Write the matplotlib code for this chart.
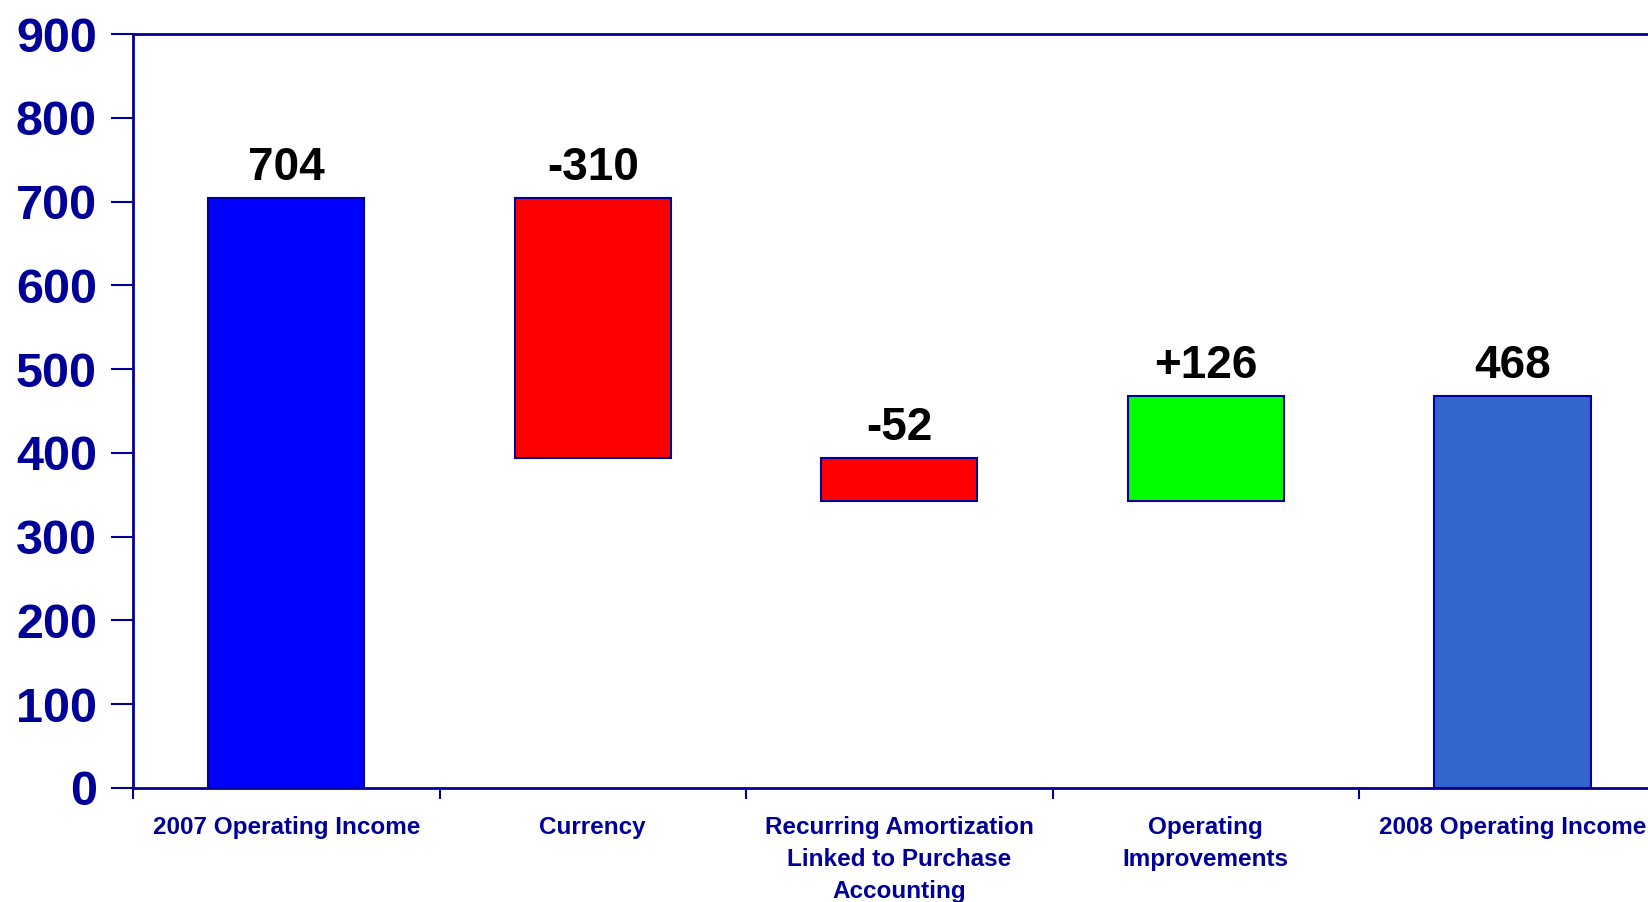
import matplotlib.pyplot as plt
from matplotlib.ticker import FixedLocator

plt.rcParams['font.family'] = ['Liberation Sans', 'DejaVu Sans']

# waterfall steps: start, changes, end
categories = ['2007 Operating Income', 'Currency',
              'Recurring Amortization\nLinked to Purchase\nAccounting',
              'Operating\nImprovements', '2008 Operating Income']
start_value = 704
changes = [-310, -52, 126]
end_value = 468
value_labels = ['704', '-310', '-52', '+126', '468']

navy = '#000099'
colors = ['#0000FF', '#FF0000', '#FF0000', '#00FF00', '#3366CC']

# build bottoms / heights from the running total
bottoms = [0]
heights = [start_value]
running = start_value
for c in changes:
    new = running + c
    bottoms.append(min(running, new))
    heights.append(abs(c))
    running = new
bottoms.append(0)
heights.append(end_value)

fig = plt.figure(figsize=(16.48, 9.02), dpi=100)
ax = fig.add_axes([0.0807, 0.1264, 0.930, 0.8359])

x = range(len(categories))
bars = ax.bar(x, heights, bottom=bottoms, width=0.51, color=colors,
              edgecolor=navy, linewidth=1.5)

for b, lab in zip(bars, value_labels):
    top = b.get_y() + b.get_height()
    ax.annotate(lab, (b.get_x() + b.get_width() / 2, top),
                xytext=(0, 6), textcoords='offset points',
                ha='center', va='bottom', fontsize=33, fontweight='bold',
                color='black')

ax.set_xlim(-0.5, len(categories) - 0.5)
ax.set_ylim(0, 900)
ax.set_yticks(range(0, 901, 100))

ax.set_xticks(list(x))
ax.set_xticklabels(categories, fontsize=17.5, fontweight='bold', color=navy,
                   linespacing=1.52)
ax.xaxis.set_minor_locator(FixedLocator([i - 0.5 for i in range(len(categories) + 1)]))
ax.tick_params(axis='x', which='major', length=0, pad=20)
ax.tick_params(axis='x', which='minor', length=8, width=1.5, color=navy,
               direction='out')
ax.tick_params(axis='y', length=16, width=1.5, color=navy, direction='out',
               pad=10, labelsize=35, labelcolor=navy)
for t in ax.get_yticklabels():
    t.set_fontweight('bold')

for side in ['left', 'bottom', 'top']:
    ax.spines[side].set_color(navy)
    ax.spines[side].set_linewidth(2)
ax.spines['right'].set_visible(False)

fig.savefig('out.png', dpi=100, facecolor='white')
